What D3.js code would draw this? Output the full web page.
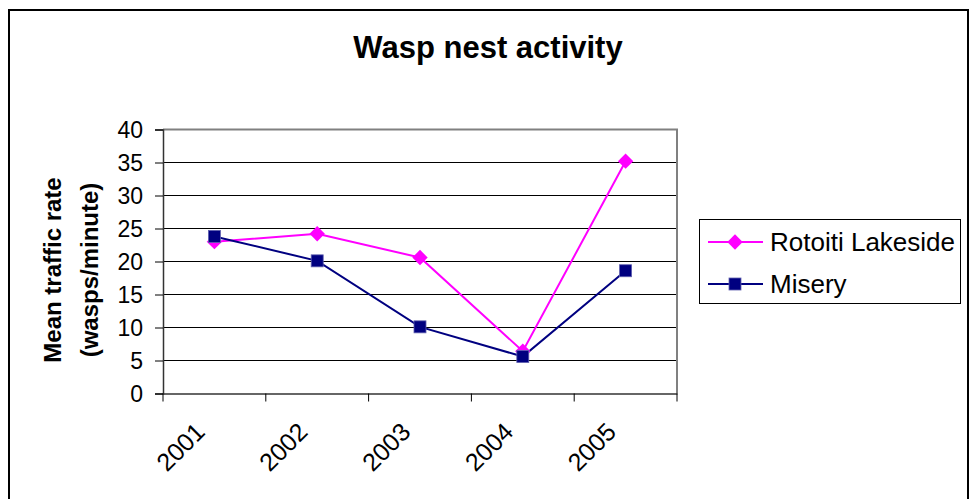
<!DOCTYPE html>
<html><head><meta charset="utf-8">
<script src="https://cdn.jsdelivr.net/npm/d3@7"></script>
<style>body{margin:0;background:#fff}svg{display:block}text{font-family:"Liberation Sans",Arial,sans-serif}</style>
</head><body>
<svg id="c" width="970" height="499"></svg>
<script>
const years = ["2001","2002","2003","2004","2005"];
const rotoiti = [23.0, 24.2, 20.6, 6.4, 35.2];
const misery = [23.8, 20.1, 10.1, 5.6, 18.6];
const yTicks = [0,5,10,15,20,25,30,35,40];
const seriesNames = ["Rotoiti Lakeside","Misery"];
const seriesColors = ["#FF00FF","#000080"];

const svg = d3.select("#c");
svg.append("rect").attr("x",9).attr("y",10).attr("width",959).attr("height",500)
  .attr("fill","#fff").attr("stroke","#000").attr("stroke-width",2);

svg.append("text").attr("x",488).attr("y",58).attr("text-anchor","middle")
  .attr("font-size",31).attr("font-weight","bold").text("Wasp nest activity");

const L=163,R=677,T=129.5,B=393.5;
const x = d3.scaleBand().domain(years).range([L,R]);
const y = d3.scaleLinear().domain([0,40]).range([B,T]);

const g = svg.append("g");
g.selectAll("line.grid").data(yTicks.filter(d=>d>0&&d<40)).enter().append("line")
  .attr("x1",L).attr("x2",R).attr("y1",d=>y(d)).attr("y2",d=>y(d))
  .attr("stroke","#000").attr("stroke-width",1);
g.append("path").attr("d",`M${L},${T}H${R}V${B}`).attr("fill","none").attr("stroke","#808080").attr("stroke-width",2);

const ya = g.append("g").attr("transform",`translate(${L},0)`)
  .call(d3.axisLeft(y).tickValues(yTicks).tickSize(8).tickPadding(12));
ya.select(".domain").attr("stroke","#333").attr("stroke-width",1.5);
ya.selectAll(".tick line").attr("stroke","#000");
ya.selectAll("text").attr("font-size",23).attr("fill","#000").attr("dy","0.36em")
  .attr("font-family","Liberation Sans, Arial, sans-serif");

const xa = g.append("g").attr("transform",`translate(0,${B})`)
  .call(d3.axisBottom(x).tickSize(0).tickFormat(""));
xa.select(".domain").attr("stroke","#333").attr("stroke-width",1.5);
const bounds = years.map(d=>x(d)).concat([R]);
g.selectAll("line.xt").data(bounds).enter().append("line")
  .attr("x1",d=>d).attr("x2",d=>d).attr("y1",B).attr("y2",B+8).attr("stroke","#000");
g.selectAll("text.xl").data(years).enter().append("text")
  .attr("font-size",25).attr("text-anchor","end")
  .attr("transform",d=>`translate(${x(d)+x.bandwidth()/2-8},${B+40}) rotate(-45)`)
  .text(d=>d);

const yl = svg.append("text").attr("transform","translate(61,270) rotate(-90)")
  .attr("text-anchor","middle").attr("font-size",24).attr("font-weight","bold");
yl.append("tspan").attr("x",0).attr("dy",0).text("Mean traffic rate");
yl.append("tspan").attr("x",0).attr("dy",37).text("(wasps/minute)");

const cx = d=>x(d)+x.bandwidth()/2;
const line = d3.line().x((d,i)=>cx(years[i])).y(d=>y(d));
const data=[rotoiti,misery];
data.forEach((s,k)=>{
  g.append("path").datum(s).attr("d",line).attr("fill","none")
    .attr("stroke",seriesColors[k]).attr("stroke-width",2);
});
function marker(sel,k){
  if(k===0){
    sel.append("path").attr("d",d3.symbol().type(d3.symbolDiamond2).size(150)())
      .attr("fill",seriesColors[0]);
  } else {
    sel.append("rect").attr("x",-6).attr("y",-6).attr("width",12).attr("height",12)
      .attr("fill",seriesColors[1]).attr("stroke","#6060b0").attr("stroke-width",0.8);
  }
}
data.forEach((s,k)=>{
  s.forEach((v,i)=>{
    const m=g.append("g").attr("transform",`translate(${cx(years[i])},${y(v)})`);
    marker(m,k);
  });
});

const lg = svg.append("g");
lg.append("rect").attr("x",699.5).attr("y",219.5).attr("width",261).attr("height",84)
  .attr("fill","#fff").attr("stroke","#000").attr("stroke-width",1);
seriesNames.forEach((n,k)=>{
  const yy = 242+k*42;
  lg.append("line").attr("x1",708).attr("x2",763).attr("y1",yy).attr("y2",yy)
    .attr("stroke",seriesColors[k]).attr("stroke-width",2);
  const m=lg.append("g").attr("transform",`translate(735,${yy})`);
  marker(m,k);
  lg.append("text").attr("x",770).attr("y",yy+9).attr("font-size",26).text(n);
});
</script>
</body></html>
